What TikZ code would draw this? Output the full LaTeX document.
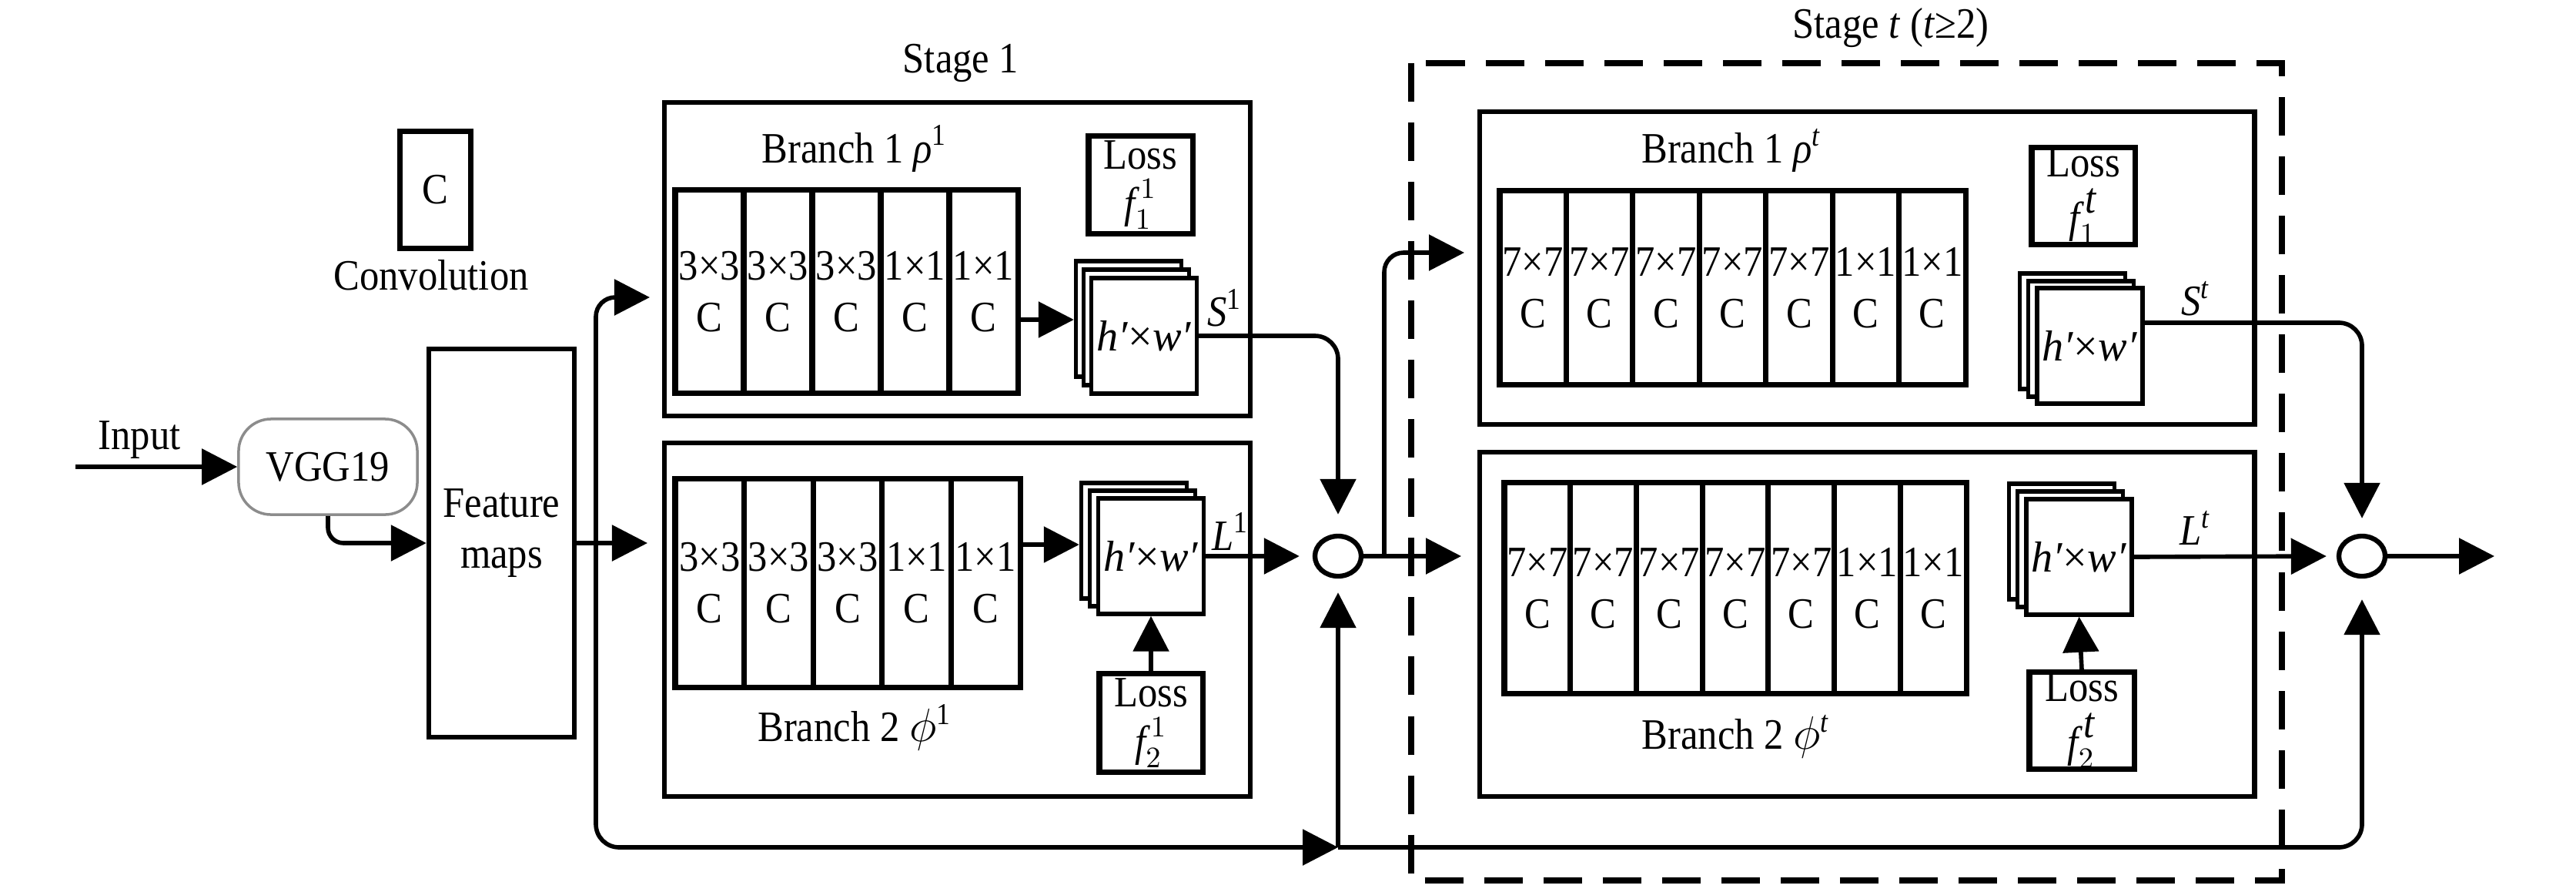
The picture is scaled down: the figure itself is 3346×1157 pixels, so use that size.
\documentclass[tikz,border=0pt]{standalone}
\usepackage{fontspec}
\setmainfont{Liberation Serif}[FakeStretch=0.9]
\newfontfamily\hwfont{Liberation Serif}
\usetikzlibrary{arrows.meta,shapes.geometric}
\tikzset{
  lbl/.style={font=\fontsize{16pt}{19pt}\selectfont, inner sep=0pt, align=center},
  bx/.style={draw, line width=1.8pt, inner sep=0pt, lbl},
  outerbox/.style={bx, line width=1.8pt},
  convbox/.style={bx, fill=white, line width=2pt},
  sheet/.style={bx, fill=white, line width=1.5pt, minimum width=1.37cm, minimum height=1.5cm},
  hwtext/.style={font=\hwfont\fontsize{16pt}{19pt}\selectfont},
  lossbox/.style={bx, fill=white, line width=2pt, font=\fontsize{16pt}{18pt}\selectfont},
  sumnode/.style={draw, ellipse, line width=1.8pt, minimum width=0.6cm, minimum height=0.52cm, inner sep=0pt},
  conn/.style={line width=1.6pt},
  arr/.style={conn, -{Triangle[length=0.46cm,width=0.46cm]}},
  dashbox/.style={line width=2.5pt, dash pattern=on 0.5cm off 0.27cm},
}
\begin{document}
\begin{tikzpicture}[x=0.01cm, y=-0.01cm]
\useasboundingbox (0,0) rectangle (3346,1157);

% legend
\node[convbox, minimum width=0.91cm, minimum height=1.51cm] (leg) at (565.5,246.5) {C};
\node[lbl] (legtxt) at (560,357) {Convolution};

% input / VGG19 / feature maps
\node[lbl] (inptxt) at (181,571) {Input};
\coordinate (inp) at (98,606);
\node[draw=black!45, line width=1pt, rounded corners=0.42cm, minimum width=2.32cm, minimum height=1.24cm, lbl] (vgg) at (426,606) {VGG19};
\node[bx, minimum width=1.89cm, minimum height=5.04cm] (feat) at (651.5,705) {};
\node[lbl] (feattxt) at (651.5,692) {Feature\\maps};

% ---------------- Stage 1 ----------------
\node[lbl] (st1) at (1248,82) {Stage 1};
\node[outerbox, minimum width=7.61cm, minimum height=4.07cm] (S1a) at (1243.5,336.5) {};
\node[outerbox, minimum width=7.61cm, minimum height=4.59cm] (S1b) at (1243.5,804.5) {};
\node[lbl] (br1a) at (1110,193) {Branch 1 \textit{ρ}\textsuperscript{1}};
\node[lbl] (br2a) at (1110,944) {Branch 2 $\phi$\textsuperscript{1}};

\foreach \i/\t in {1/3×3,2/3×3,3/3×3,4/1×1,5/1×1}{
  \node[convbox, minimum width=0.89cm, minimum height=2.63cm] (convA\i) at ({877+89*(\i-0.5)},378.5) {\t\\C};
  \node[convbox, minimum width=0.896cm, minimum height=2.70cm] (convB\i) at ({877+89.6*(\i-0.5)},757) {\t\\C};
}

\node[lossbox, minimum width=1.35cm, minimum height=1.26cm] (lossA) at (1481.5,240) {Loss\\$\textit{f}^{\,1}_{1}$};
\node[sheet] (hwA3) at (1466,414) {};
\node[sheet] (hwA2) at (1476,425) {};
\node[sheet, lbl, hwtext] (hwA) at (1486,436) {\textit{h′}×\textit{w′}};

\node[sheet] (hwB3) at (1473,702) {};
\node[sheet] (hwB2) at (1484,712) {};
\node[sheet, lbl, hwtext] (hwB) at (1495,722) {\textit{h′}×\textit{w′}};
\node[lossbox, minimum width=1.34cm, minimum height=1.27cm] (lossB) at (1495,938.5) {Loss\\$\textit{f}^{\,1}_{2}$};

\node[lbl] (S1lab) at (1591,400) {\textit{S}\textsuperscript{1}};
\node[lbl] (L1lab) at (1598,690) {\textit{L}\textsuperscript{1}};

\node[sumnode] (c1) at (1738,722) {};

% ---------------- Stage t ----------------
\draw[dashbox] (1833,82) rectangle (2964,1143);
\node[lbl] (stt) at (2456,36) {Stage \textit{t} (\textit{t}≥2)};
\node[outerbox, minimum width=10.06cm, minimum height=4.06cm] (Ta) at (2425,348) {};
\node[outerbox, minimum width=10.06cm, minimum height=4.47cm] (Tb) at (2425,810.5) {};
\node[lbl] (br1t) at (2249,195) {Branch 1 \textit{ρ}\textsuperscript{\textit{t}}};
\node[lbl] (br2t) at (2255,956) {Branch 2 $\phi$\textsuperscript{\textit{t}}};

\foreach \i/\t in {1/7×7,2/7×7,3/7×7,4/7×7,5/7×7,6/1×1,7/1×1}{
  \node[convbox, minimum width=0.8643cm, minimum height=2.51cm] (convC\i) at ({1948+86.43*(\i-0.5)},373.5) {\t\\C};
  \node[convbox, minimum width=0.8571cm, minimum height=2.73cm] (convD\i) at ({1954+85.71*(\i-0.5)},763.5) {\t\\C};
}

\node[lossbox, minimum width=1.34cm, minimum height=1.25cm] (lossC) at (2706,254.5) {Loss\\[2.5pt]$\textit{f}^{\,\textit{t}}_{1}$};
\node[sheet] (hwC3) at (2692,430) {};
\node[sheet] (hwC2) at (2703,440) {};
\node[sheet, lbl, hwtext] (hwC) at (2714.5,449) {\textit{h′}×\textit{w′}};

\node[sheet] (hwD3) at (2678,703) {};
\node[sheet] (hwD2) at (2689,713) {};
\node[sheet, lbl, hwtext] (hwD) at (2700.5,723) {\textit{h′}×\textit{w′}};
\node[lossbox, minimum width=1.36cm, minimum height=1.25cm] (lossD) at (2704,935.5) {Loss\\[2.5pt]$\textit{f}^{\,\textit{t}}_{2}$};

\node[lbl] (Stlab) at (2852,388) {\textit{S}\textsuperscript{\textit{t}}};
\node[lbl] (Ltlab) at (2852,685) {\textit{L}\textsuperscript{\textit{t}}};

\node[sumnode] (c2) at (3068,722) {};

% ---------------- connectors ----------------
\coordinate (t1b) at (841,705);
\coordinate (j1) at (774,705);
\coordinate (t1a) at (844,386);
\coordinate (j2) at (1738,1100);
\coordinate (a1s) at (1322,415);
\coordinate (b1s) at (1325,707);
\coordinate (t2b) at (1898,722);
\coordinate (j3) at (1798,722);
\coordinate (t2a) at (1902,328);
\coordinate (out) at (3240,722);

\draw[arr] (inp) -- (vgg);
\draw[arr, rounded corners=0.2cm] (vgg.south) |- (feat.west);
\draw[arr] (feat.east) -- (t1b);
\draw[arr, rounded corners=0.25cm] (j1) |- (t1a);
\draw[arr, rounded corners=0.3cm] (j1) |- (j2);
\draw[arr, shorten >=0.18cm] (j2) -- (c1.south);
\draw[arr, rounded corners=0.3cm, shorten >=0.27cm] (j2) -| (c2.south);

\draw[arr] (a1s) -- (a1s -| hwA3.west);
\draw[arr] (b1s) -- (b1s -| hwB3.west);
\draw[arr, rounded corners=0.3cm, shorten >=0.25cm] (hwA.east) -| (c1.north);
\draw[arr, shorten >=0.17cm] (hwB.east) -- (c1.west);
\draw[arr] (lossB.north) -- (hwB.south);

\draw[arr] (c1.east) -- (t2b);
\draw[arr, rounded corners=0.25cm] (j3) |- (t2a);

\draw[arr, rounded corners=0.3cm, shorten >=0.2cm] ([yshift=0.3cm]hwC.east) -| (c2.north);
\draw[arr, shorten >=0.13cm] (hwD.east) -- (c2.west);
\draw[arr] (lossD.north) -- (hwD.south);
\draw[arr] (c2.east) -- (out);
\end{tikzpicture}
\end{document}
